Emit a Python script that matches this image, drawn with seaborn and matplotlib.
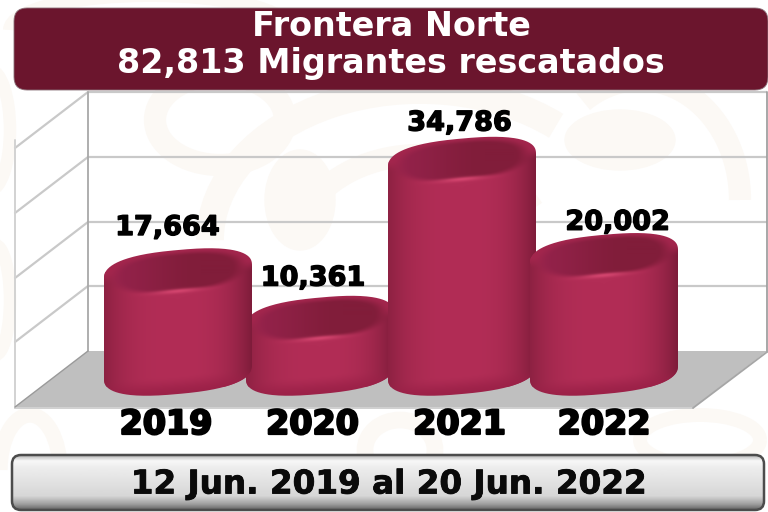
import numpy as np
import pandas as pd
import matplotlib
matplotlib.use("Agg")
import matplotlib.pyplot as plt
import seaborn as sns
from matplotlib.path import Path
from matplotlib.patches import FancyBboxPatch, Polygon, Arc, Ellipse
from matplotlib.transforms import ScaledTranslation
import matplotlib.patheffects as pe

# ---- data ----
years = ["2019", "2020", "2021", "2022"]
rescued = [17664, 10361, 34786, 20002]
title_lines = ["Frontera Norte", "82,813 Migrantes rescatados"]
period = "12 Jun. 2019 al 20 Jun. 2022"

# ---- style ----
W, H = 768, 512
FONT = "DejaVu Sans"
GRID = "#c9c9c9"
label_dx = [-10.5, -7, -2.5, 13.5]
label_dy = [37, 34, 30, 27]
tick_dx = [-12, -7.5, -2.5, 0]
bar_order = [4, 3, 4, 5]
BASE_PY = 372
ZERO_PY = 387.0
B = 22.0
K = 0.09
P = 2.5

sns.set_theme(style="white")
plt.rcParams["font.family"] = [FONT]
fig = plt.figure(figsize=(W / 100, H / 100), dpi=100, facecolor="white")

# ---- background layer in pixel coordinates ----
bg = fig.add_axes([0, 0, 1, 1], zorder=0)
bg.set_xlim(0, W); bg.set_ylim(H, 0); bg.axis("off")
wm = "#fcf9f5"
for (x, y, w, h, a1, a2, lw) in [(-10, 130, 40, 120, 0, 360, 9), (-5, 300, 30, 110, 0, 360, 9),
                                 (30, 470, 60, 110, 180, 360, 11), (220, 120, 130, 90, 0, 360, 16),
                                 (420, 240, 420, 300, 180, 320, 20), (420, 250, 250, 190, 200, 340, 16),
                                 (400, 450, 70, 60, 0, 360, 12), (640, 200, 200, 240, 240, 360, 16),
                                 (150, 30, 280, 70, 180, 360, 10), (700, 440, 120, 50, 0, 360, 10)]:
    bg.add_patch(Arc((x, y), w, h, theta1=a1, theta2=a2, color=wm, lw=lw, zorder=1))
bg.add_patch(Ellipse((300, 200), 70, 100, color=wm, zorder=1))
bg.add_patch(Ellipse((620, 140), 110, 60, color=wm, zorder=1))

bg.add_patch(Polygon([(15, 407), (88, 351), (767, 351), (693, 408)], closed=True, fc="#bfbfbf", ec="none", zorder=2))
for y in [92, 157, 222, 286]:
    bg.plot([88, 767], [y, y], color=GRID, lw=1.6, zorder=3, solid_capstyle="butt")
    bg.plot([88, 15], [y, y + 56], color=GRID, lw=1.6, zorder=3)
bg.plot([88, 88], [92, 351], color="#a8a8a8", lw=1.3, zorder=3)
bg.plot([15, 15], [140, 408], color="#d2d2d2", lw=1.4, zorder=3)
bg.plot([766.5, 766.5], [92, 352], color="#a0a0a0", lw=1.3, zorder=3)
bg.plot([15, 693], [408, 408], color="#d0d0d0", lw=1.4, zorder=3)
bg.plot([693, 767], [408, 352], color="#a6a6a6", lw=1.3, zorder=3)
bg.plot([15, 88], [407, 351], color="#9a9a9a", lw=1.0, zorder=3)

# header banner
bg.add_patch(FancyBboxPatch((14, 8), 754, 82, boxstyle="round,pad=0,rounding_size=13",
                            fc="#6b152d", ec="#8a7078", lw=0.6, zorder=6))
bg.text(391, 27, title_lines[0], color="white", fontsize=24, fontweight="bold", ha="center", va="center", zorder=7)
bg.text(391, 64, title_lines[1], color="white", fontsize=24, fontweight="bold", ha="center", va="center", zorder=7)

# period banner
box = FancyBboxPatch((12, 455), 752, 55, boxstyle="round,pad=0,rounding_size=9",
                     fc="none", ec="#4c4c4c", lw=1.8, zorder=7)
bg.add_patch(box)
stops = np.interp(np.linspace(0, 1, 60), [0, .1, .22, .75, .9, 1], [.72, .97, .93, .84, .62, .40])
shade = np.clip(stops, 0, 1).reshape(-1, 1)
img = bg.imshow(shade, cmap="gray", vmin=0, vmax=1, extent=(12, 764, 510, 455), aspect="auto", zorder=6)
img.set_clip_path(box)
bg.set_xlim(0, W); bg.set_ylim(H, 0)
bg.text(389, 484, period, color="#0a0a0a", fontsize=23.5, fontweight="bold", ha="center", va="center", zorder=8,
        path_effects=[pe.withStroke(linewidth=0.6, foreground="#0a0a0a")])

# ---- bars on real scales ----
ax = fig.add_axes([0, (H - 408) / H, 1, 408 / H], zorder=1)
ax.patch.set_alpha(0)
df = pd.DataFrame({"year": years, "rescued": rescued})
sns.barplot(data=df, x="year", y="rescued", color="#a32750", width=148 / 142, errorbar=None,
            saturation=1, ax=ax, edgecolor="none", linewidth=0)
scale = 0.00651
ax.set_xlim(-178 / 142, (W - 178) / 142)
ax.set_ylim((ZERO_PY - 408) / scale, ZERO_PY / scale)
sns.despine(ax=ax, left=True, bottom=True, top=True, right=True)
ax.set_xlabel(""); ax.set_ylabel(""); ax.set_yticks([])
ax.grid(False)
ax.tick_params(axis="x", length=0, pad=0)
fig.canvas.draw()
for lab, dx in zip(ax.get_xticklabels(), tick_dx):
    lab.set_fontsize(24); lab.set_fontweight("bold"); lab.set_color("black")
    lab.set_path_effects([pe.withStroke(linewidth=1.6, foreground="black")])
    lab.set_transform(lab.get_transform() + ScaledTranslation(dx / 100, 0, fig.dpi_scale_trans))

def hexrgb(c):
    return np.array(matplotlib.colors.to_rgb(c))

def lerp(a, b, t):
    return a * (1 - t[..., None]) + b * t[..., None]

def sstep(e0, e1, x):
    t = np.clip((x - e0) / (e1 - e0), 0, 1)
    return t * t * (3 - 2 * t)

inv = ax.transData.inverted()
def to_data(pts):
    pts = np.asarray(pts, float).copy()
    pts[:, 1] = H - pts[:, 1]
    return inv.transform(pts)

for bar, z in zip(ax.patches, bar_order):
    x0, x1 = bar.get_x(), bar.get_x() + bar.get_width()
    (d0, dy), (d1, _) = ax.transData.transform([(x0, bar.get_height()), (x1, bar.get_height())])
    yt = H - dy
    cx, a = (d0 + d1) / 2, (d1 - d0) / 2
    yb = BASE_PY
    th = np.linspace(0, 2 * np.pi, 240)
    cu = np.sign(np.cos(th)) * np.abs(np.cos(th)) ** (2 / P)
    su = np.sign(np.sin(th)) * np.abs(np.sin(th)) ** (2 / P)
    px = cx + a * cu
    py = np.where(su < 0, yt, yb) + B * su - K * a * cu
    clip = Path(to_data(np.c_[px, py]).tolist() + [to_data([[px[0], py[0]]])[0].tolist()])
    bar.set_zorder(z); bar.set_clip_path(clip, ax.transData)
    ex0, ex1, ey0, ey1 = cx - a - 1, cx + a + 1, yt - 36, yb + 36
    X, Y = np.meshgrid(np.linspace(ex0, ex1, int(2 * (ex1 - ex0))), np.linspace(ey0, ey1, int(2 * (ey1 - ey0))))
    U = (X - cx) / a
    Vt = (Y - yt + K * (X - cx)) / B
    Vb = (Y - yb + K * (X - cx)) / B
    full = lambda c: np.broadcast_to(hexrgb(c), X.shape + (3,))
    edge = lerp(full("#8d2142"), full("#7e1c3a"), sstep(-.2, .2, U))
    body = lerp(full("#b22d56"), edge, np.abs(U) ** 3.0)
    body = lerp(body, full("#9a2047"), sstep(.1, 1, Vb) * .9)
    r = (np.abs(U) ** P + np.abs(Vt) ** P) ** (1 / P)
    face = lerp(full("#93224a"), full("#811d3a"), sstep(-.9, .3, U))
    rim = lerp(full("#a3264d"), body, sstep(-.3, .3, Vt))
    top = lerp(face, rim, sstep(.72, .97, r))
    surf = np.where((r < 1)[..., None] | (Vt < 0)[..., None], top, body)
    glow = np.exp(-(U / .32) ** 2 - ((Vt - .86) / .1) ** 2) * .85
    surf = np.clip(lerp(surf, full("#dc4a74"), glow), 0, 1)
    (dx0, dy0), (dx1, dy1) = to_data([[ex0, ey1], [ex1, ey0]])
    im = ax.imshow(surf, extent=(dx0, dx1, dy0, dy1), origin="upper", aspect="auto",
                   interpolation="bilinear", zorder=z + 0.1)
    im.set_clip_path(clip, ax.transData)

ax.set_xlim(-178 / 142, (W - 178) / 142)
ax.set_ylim((ZERO_PY - 408) / scale, ZERO_PY / scale)

for i, v in enumerate(rescued):
    ax.annotate(f"{v:,}", (i, v), xytext=(label_dx[i], label_dy[i]), textcoords="offset pixels",
                ha="center", va="baseline", fontsize=19.5, fontweight="bold", color="black", zorder=9,
                path_effects=[pe.withStroke(linewidth=1.0, foreground="black")])

fig.savefig("out.png", dpi=100)
